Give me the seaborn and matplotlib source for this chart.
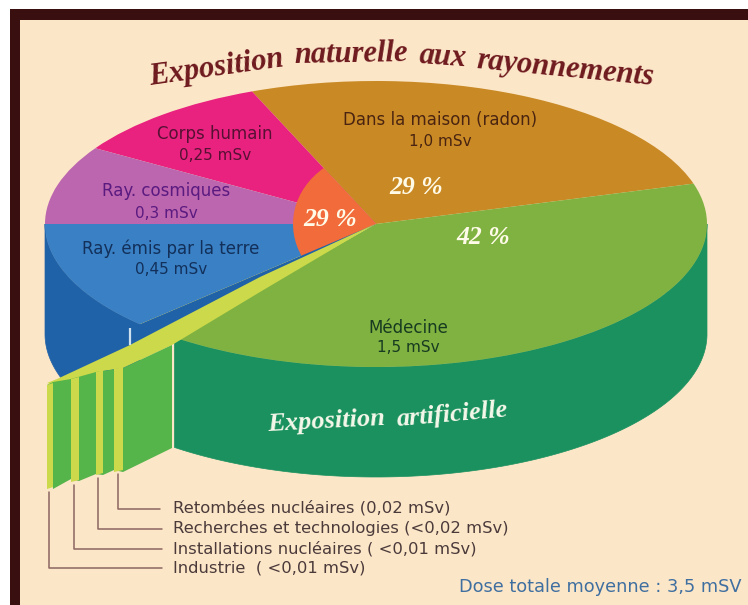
import numpy as np
import matplotlib
matplotlib.use("Agg")
import matplotlib.pyplot as plt
from matplotlib.patches import Polygon
import seaborn as sns

# ---- data ----
sectors = ["Dans la maison (radon)", "Corps humain", "Ray. cosmiques",
           "Ray. émis par la terre", "Autres artificielles", "Médecine"]
doses = ["1,0 mSv", "0,25 mSv", "0,3 mSv", "0,45 mSv", "", "1,5 mSv"]
drawn_degrees = [95.6, 36, 32, 44.5, 8, 143.9]     # slice widths as drawn
natural_degrees = [79, 281]                        # inner orange slice / rest
percent_labels = ["29 %", "29 %", "42 %"]
small_sources = ["Retombées nucléaires (0,02 mSv)",
                 "Recherches et technologies (<0,02 mSv)",
                 "Installations nucléaires ( <0,01 mSv)",
                 "Industrie  ( <0,01 mSv)"]
title_words = ["Exposition", "naturelle", "aux", "rayonnements"]
artificial_words = ["Exposition", "artificielle"]
total_label = "Dose totale moyenne : 3,5 mSV"

# ---- style ----
sns.set_theme(style="white")
face_colors = sns.color_palette(["#c98a26", "#e8227e", "#bb66ae", "#3a80c4", "#ccd94a", "#7fb241"])
BG, FRAME = "#fce6c8", "#3a0f10"
BLUE_DARK, GREEN_DARK, GREEN_FRONT, YELLOW = "#2062a8", "#1a915f", "#55b44a", "#ccd94a"
LEADER = "#8c6660"

W, H = 748, 605
CX, CY, RX, RY, DEPTH = 376, 224, 331, 143, 110
START = 16.4

fig = plt.figure(figsize=(W / 100, H / 100), dpi=100, facecolor="white")

def pixel_axes(z):
    a = fig.add_axes([0, 0, 1, 1], zorder=z)
    a.set_xlim(0, W)
    a.set_ylim(H, 0)
    a.axis("off")
    return a

def pie_axes(cx, cy, rx, ry, z):
    a = fig.add_axes([(cx - rx) / W, 1 - (cy + ry) / H, 2 * rx / W, 2 * ry / H], zorder=z)
    a.patch.set_alpha(0)
    return a

def finish_pie(a):
    a.set_aspect("auto")
    a.set_xlim(-1, 1)
    a.set_ylim(-1, 1)
    a.axis("off")

def rim(theta):
    t = np.radians(theta)
    return CX + RX * np.cos(t), CY - RY * np.sin(t)

# ---- background, frame and side walls ----
back = pixel_axes(0)
back.add_patch(Polygon([(10, 9), (W, 9), (W, H), (10, H)], fc=FRAME, lw=0))
back.add_patch(Polygon([(20, 20), (W, 20), (W, H), (20, H)], fc=BG, lw=0))

def wall(t0, t1, color):
    x, y = rim(np.linspace(t0, t1, 200))
    pts = np.r_[np.c_[x, y], np.c_[x, y + DEPTH][::-1]]
    back.add_patch(Polygon(pts, fc=color, ec=color, lw=0.5))

edges = START + np.cumsum(drawn_degrees)
wall(edges[2], edges[3], BLUE_DARK)
wall(edges[4], 360, GREEN_DARK)

# ---- top face ----
top = pie_axes(CX, CY, RX, RY, 1)
top.pie(drawn_degrees, colors=face_colors, startangle=START, counterclock=True,
        radius=1, wedgeprops=dict(linewidth=0))
finish_pie(top)

inner = pie_axes(CX, CY, 83, 72, 2)
inner.pie(natural_degrees, colors=["#f26b3a", "none"], startangle=129,
          radius=1, wedgeprops=dict(linewidth=0))
finish_pie(inner)

# ---- the thin artificial slices pulled out at the front ----
over = pixel_axes(3)
over.add_patch(Polygon([(CX, CY), rim(edges[3]), (131, 329), (131, 346)], fc=BLUE_DARK, lw=0))
over.plot([130.5, 130.5], [328, 345], color="#cfe0ee", lw=1.6, solid_capstyle="butt")
over.add_patch(Polygon([(375, 224), (260, 277), (130, 345), (57, 379), (47, 383),
                        (53, 385), (79, 378), (103, 371), (123, 368), (172, 345), (260, 292)],
                       fc=YELLOW, lw=0))
over.add_patch(Polygon([(123, 368), (172, 345), (172, 448), (123, 472), (114, 470),
                        (103, 475), (96, 474), (79, 481), (71, 479), (53, 489),
                        (47, 385), (53, 382), (71, 379), (96, 372)],
                       fc=GREEN_FRONT, lw=0))
stripes = [(47, 53, 384, 489), (71, 79, 378, 482), (96, 103, 371, 475), (114, 123, 368, 472)]
for x0, x1, y0, y1 in stripes:
    over.add_patch(Polygon([(x0, y0 + 1), (x1, y0 - 1), (x1, y1 - 2), (x0, y1)], fc=YELLOW, lw=0))

# ---- leader lines ----
leaders = [(118, 474, 509, 160), (98, 478, 529, 162), (74, 485, 549, 162), (49, 492, 568, 162)]
for x, y0, y1, x1 in leaders:
    over.plot([x, x, x1], [y0, y1, y1], color=LEADER, lw=1.1)

# ---- text ----
SANS = "DejaVu Sans"
label_pos = {0: (440, 120, "#4a2410"), 1: (215, 134, "#571034"), 2: (166, 191, "#5a1a80"),
             3: (171, 249, "#12305a"), 5: (408, 328, "#173a20")}
label_gap = {0: 22, 1: 22, 2: 22, 3: 20, 5: 20}
for i, (x, y, c) in label_pos.items():
    over.text(x, y, sectors[i], ha="center", va="center", color=c, fontsize=12, family=SANS)
    over.text(x, y + label_gap[i], doses[i], ha="center", va="center", color=c, fontsize=11, family=SANS)

pct_pos = [(416, 188), (330, 219), (483, 237)]
for (x, y), s in zip(pct_pos, percent_labels):
    over.text(x, y, s, ha="center", va="center", color="#fffbe8", fontsize=18.5,
              family="Liberation Serif", style="italic", weight="bold")

title_pos = [(216, 68, 8), (351, 55, 1), (443, 57, -4), (565, 69, -5.5)]
for (x, y, r), s in zip(title_pos, title_words):
    over.text(x, y, s, ha="center", va="center", rotation=r, rotation_mode="anchor",
              color="#6e1a1e", fontsize=22, family="Liberation Serif", style="italic", weight="bold")

art_pos = [(326, 421, 3), (452, 415, 5)]
for (x, y, r), s in zip(art_pos, artificial_words):
    over.text(x, y, s, ha="center", va="center", rotation=r, rotation_mode="anchor",
              color="#f4f8ea", fontsize=19, family="Liberation Serif", style="italic", weight="bold")

text_y = [508, 528, 549, 568]
for y, s in zip(text_y, small_sources):
    over.text(173, y, s, ha="left", va="center", color="#4a3a3a", fontsize=11.8, family=SANS)

over.text(742, 587, total_label, ha="right", va="center", color="#3f6fa0", fontsize=12.8, family=SANS)

fig.savefig("out.png", dpi=100)
